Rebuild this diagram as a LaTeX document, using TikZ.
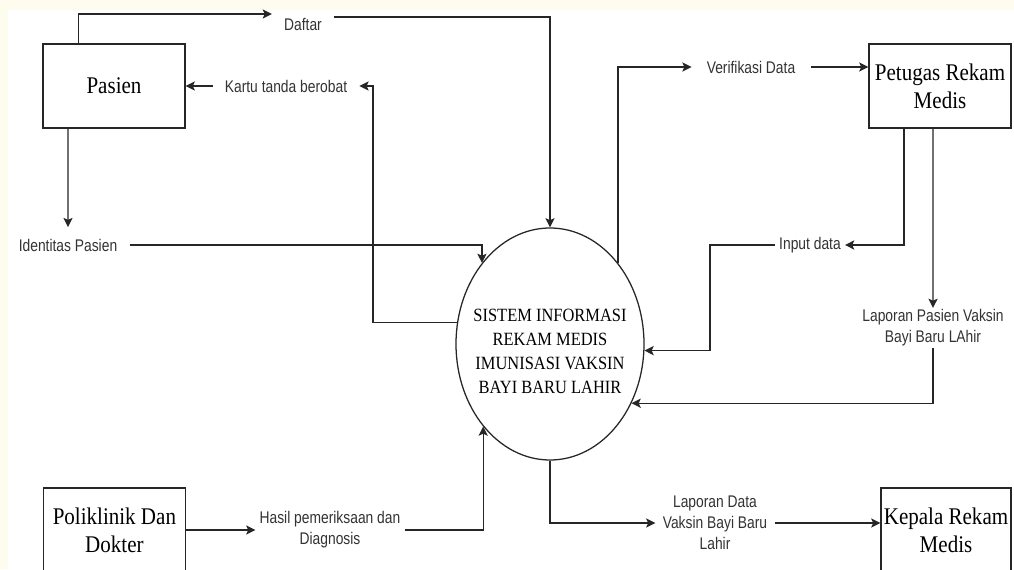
\documentclass[tikz,border=0pt]{standalone}
\usepackage{fontspec}
\usepackage{tikz}
\usetikzlibrary{arrows.meta, shapes.geometric}
\newfontfamily\entfont[FakeStretch=0.88]{Liberation Serif}
\newfontfamily\flowfont[FakeStretch=0.82]{Liberation Sans}
\definecolor{pagecream}{HTML}{FDFCEF}
\definecolor{lbltext}{HTML}{333333}
\tikzset{
  extnode/.style={draw=black!85,line width=0.9pt,minimum width=3.55cm,minimum height=2.1cm,inner sep=1pt,align=center,font=\entfont\fontsize{17}{20}\selectfont},
  procnode/.style={ellipse,draw=black!85,line width=0.9pt,minimum width=4.7cm,minimum height=5.8cm,inner xsep=-0.3cm,inner ysep=0pt,align=center,font=\entfont\fontsize{13.3}{17}\selectfont},
  flowlbl/.style={inner xsep=0.3cm,inner ysep=1pt,align=center,text=lbltext,font=\flowfont\fontsize{12}{15}\selectfont},
  flow/.style={-{Stealth[length=2.3mm,width=2.3mm,inset=0.5mm]},line width=0.9pt,black!85},
}

\begin{document}
\begin{tikzpicture}
  \useasboundingbox (0,0) rectangle (25.35,14.225);
  \fill[pagecream] (0,0) rectangle (25.35,14.225);
  \fill[white] (0.2,0) rectangle (25.35,13.975);
  % ---- external entities and the process ----
  \node[extnode] (pasien) at (2.85,12.075) {Pasien};
  \node[extnode] (petugas) at (23.5,12.075) {Petugas Rekam\\Medis};
  \node[extnode] (poli) at (2.86,0.975) {Poliklinik Dan\\Dokter};
  \node[extnode,minimum width=3.25cm] (kepala) at (23.65,0.975) {Kepala Rekam\\Medis};
  \node[procnode] (sys) at (13.75,5.625) {\rule{0pt}{0.68cm}SISTEM INFORMASI\\REKAM MEDIS\\IMUNISASI VAKSIN\\BAYI BARU LAHIR};
  % ---- data flow labels ----
  \node[flowlbl] (daftar) at (7.575,13.625) {Daftar};
  \node[flowlbl] (kartu) at (7.15,12.075) {Kartu tanda berobat};
  \node[flowlbl] (ident) at (1.7,8.1) {Identitas Pasien};
  \node[flowlbl,inner xsep=0.1cm] (hasil) at (8.25,0.975) {Hasil pemeriksaan dan\\Diagnosis};
  \node[flowlbl,inner xsep=0.18cm] (lapdata) at (17.875,1.15) {Laporan Data\\Vaksin Bayi Baru\\Lahir};
  \node[flowlbl,inner xsep=0.375cm] (verif) at (18.775,12.55) {Verifikasi Data};
  \node[flowlbl,inner xsep=0.1cm] (input) at (20.25,8.1) {Input data};
  \node[flowlbl] (lappasien) at (23.325,6.025) {Laporan Pasien Vaksin\\Bayi Baru LAhir};
  \coordinate (kartuturn) at (9.325,12.075);
  \coordinate (inturn) at (17.75,8.1);
  % ---- flows ----
  \draw[flow] ([xshift=0.9cm]pasien.north west) |- ([yshift=0.25cm]daftar.west);
  \draw[flow] ([yshift=0.175cm]daftar.east) -| (sys.north);
  \draw[flow] (sys.167) -| (kartuturn) -- (kartu.east);
  \draw[flow] (kartu.west) -- (pasien.east);
  \draw[flow] ([xshift=-1.15cm]pasien.south) -- ([yshift=0.25cm]ident.north);
  \draw[flow] (ident.east) -| (sys.130);
  \draw[flow] (poli.east) -- (hasil.west);
  \draw[flow] (hasil.east) -| (sys.231);
  \draw[flow] (sys.south) |- (lapdata.west);
  \draw[flow] (lapdata.east) -- (lapdata.east -| kepala.west);
  \draw[flow] (sys.50) |- (verif.west);
  \draw[flow] (verif.east) -- (verif.east -| petugas.west);
  \draw[flow] ([xshift=-0.9cm]petugas.south) |- (input.east);
  \draw[flow] (input.west) -- (inturn) |- (sys.-4);
  \draw[flow] ([xshift=-0.175cm]petugas.south) -- (lappasien.north);
  \draw[flow] (lappasien.south) |- (sys.-36);
\end{tikzpicture}
\end{document}
